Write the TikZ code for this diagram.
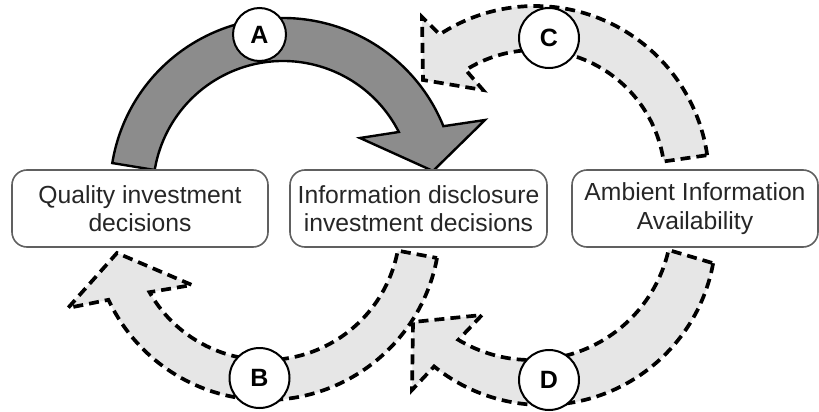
\documentclass[tikz,border=0pt]{standalone}
\usepackage{fontspec}
\setmainfont{Liberation Sans}
\definecolor{darkA}{HTML}{8C8C8C}
\definecolor{lightF}{HTML}{E6E6E6}
\definecolor{boxline}{HTML}{606060}
\definecolor{txt}{HTML}{262626}
\tikzset{
  solidarrow/.style={fill=darkA, draw=black, line width=2.4pt, line join=miter},
  dasharrow/.style={fill=lightF, draw=black, line width=3.7pt, dash pattern=on 10pt off 6pt},
  box/.style={draw=boxline, line width=1.6pt, rounded corners=15pt, fill=white,
    minimum height=77pt, align=center, inner sep=0pt, text=txt,
    font=\fontsize{24.7}{28.5}\selectfont},
  marker/.style={circle, draw=black, line width=2pt, fill=white, inner sep=0pt,
    font=\bfseries\fontsize{25}{25}\selectfont},
}
\begin{document}
\begin{tikzpicture}[x=1pt,y=-1pt]
\useasboundingbox (0,0) rectangle (819,412);
% arc centres
\coordinate (cA) at (283,191);
\coordinate (cB) at (266,226);
\coordinate (cC) at (535,180);
\coordinate (cDo) at (543,232);
\coordinate (cDi) at (531,219);
% arrow heads
\coordinate (Al) at (360,138); \coordinate (At) at (433,171); \coordinate (Ar) at (485,120);
\coordinate (Bl) at (68,308);  \coordinate (Bt) at (117,253); \coordinate (Br) at (192,285);
\coordinate (Ct) at (422,17);  \coordinate (Ctip) at (423,80); \coordinate (Cb) at (483,90);
\coordinate (Dt) at (482,315); \coordinate (Dtip) at (413,322); \coordinate (Db) at (412,390);

% A (solid)
\draw[solidarrow] ([shift={(189.3:173)}]cA) arc[start angle=189.3, end angle=338, radius=173]
  -- (Ar) -- (At) -- (Al)
  -- ([shift={(333:130)}]cA) arc[start angle=333, end angle=189.3, radius=130] -- cycle;
% B (dashed)
\draw[dasharrow] ([shift={(10.6:174)}]cB) arc[start angle=10.6, end angle=154.9, radius=174]
  -- (Bl) -- (Bt) -- (Br)
  -- ([shift={(150.4:134)}]cB) arc[start angle=150.4, end angle=10.6, radius=134] -- cycle;
% C (dashed)
\draw[dasharrow] ([shift={(-8.2:174)}]cC) arc[start angle=-8.2, end angle=-123.2, radius=174]
  -- (Ct) -- (Ctip) -- (Cb)
  -- ([shift={(-122.2:130)}]cC) arc[start angle=-122.2, end angle=-8.2, radius=130] -- cycle;
% D (dashed)
\draw[dasharrow] ([shift={(10.4:173)}]cDo) arc[start angle=10.4, end angle=129, radius=173]
  -- (Db) -- (Dtip) -- (Dt)
  -- ([shift={(121:141)}]cDi) arc[start angle=121, end angle=12.7, radius=141] -- cycle;

% boxes
\node[box, minimum width=256pt] (q) at (140,208.5) {Quality investment\\decisions};
\node[box, minimum width=257pt] (i) at (418.5,208.5) {Information disclosure\\investment decisions};
\node[box, minimum width=246pt] (a) at (695,208.5) {Ambient Information\\Availability};

% markers
\node[marker, minimum size=53pt] (mA) at (259.5,34.5) {A};
\node[marker, minimum size=60pt] (mB) at (259.5,378) {B};
\node[marker, minimum size=60pt] (mC) at (549,38) {C};
\node[marker, minimum size=60pt] (mD) at (549,380) {D};
\end{tikzpicture}
\end{document}
